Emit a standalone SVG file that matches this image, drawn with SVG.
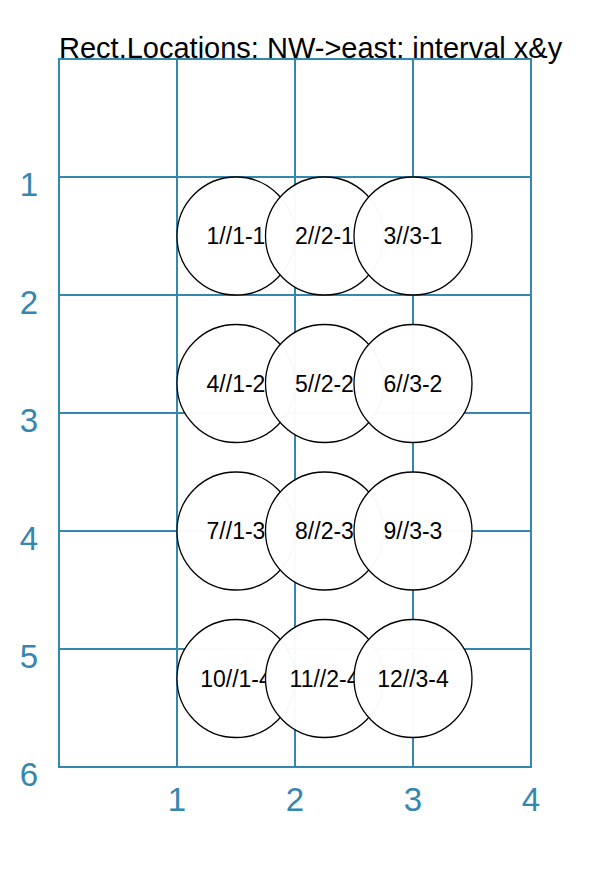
<svg xmlns="http://www.w3.org/2000/svg" width="613" height="875" viewBox="0 0 613 875">
<style>
.grid{stroke:#3587ae;stroke-width:2;fill:none;stroke-linecap:square}
.ax{font-family:"Liberation Sans",Arial,sans-serif;font-size:33px;fill:#3587ae;text-anchor:middle}
.title{font-family:"Liberation Sans",Arial,sans-serif;font-size:29px;fill:#000}
.c{fill:#fff;fill-opacity:0.97;stroke:#000;stroke-width:1.3}
.lb{font-family:"Liberation Sans",Arial,sans-serif;font-size:23px;fill:#000;text-anchor:middle}
</style>
<rect width="613" height="875" fill="#fff"/>
<g id="grid">
<path class="grid" d="M59 59V767M177 59V767M295 59V767M413 59V767M531 59V767M59 59H531M59 177H531M59 295H531M59 413H531M59 531H531M59 649H531M59 767H531"/>
</g>
<g id="axes">
<text class="ax" x="29" y="196">1</text>
<text class="ax" x="29" y="314">2</text>
<text class="ax" x="29" y="432">3</text>
<text class="ax" x="29" y="550">4</text>
<text class="ax" x="29" y="668">5</text>
<text class="ax" x="29" y="786">6</text>
<text class="ax" x="177" y="811">1</text>
<text class="ax" x="295" y="811">2</text>
<text class="ax" x="413" y="811">3</text>
<text class="ax" x="531" y="811">4</text>
</g>
<text class="title" x="59" y="58">Rect.Locations: NW-&gt;east: interval x&amp;y</text>
<g id="connectors"></g>
<g id="n1"><circle class="c" cx="236" cy="236" r="59"/><text class="lb" x="236" y="244">1//1-1</text></g>
<g id="n2"><circle class="c" cx="324.5" cy="236" r="59"/><text class="lb" x="324.5" y="244">2//2-1</text></g>
<g id="n3"><circle class="c" cx="413" cy="236" r="59"/><text class="lb" x="413" y="244">3//3-1</text></g>
<g id="n4"><circle class="c" cx="236" cy="383.5" r="59"/><text class="lb" x="236" y="391.5">4//1-2</text></g>
<g id="n5"><circle class="c" cx="324.5" cy="383.5" r="59"/><text class="lb" x="324.5" y="391.5">5//2-2</text></g>
<g id="n6"><circle class="c" cx="413" cy="383.5" r="59"/><text class="lb" x="413" y="391.5">6//3-2</text></g>
<g id="n7"><circle class="c" cx="236" cy="531" r="59"/><text class="lb" x="236" y="539">7//1-3</text></g>
<g id="n8"><circle class="c" cx="324.5" cy="531" r="59"/><text class="lb" x="324.5" y="539">8//2-3</text></g>
<g id="n9"><circle class="c" cx="413" cy="531" r="59"/><text class="lb" x="413" y="539">9//3-3</text></g>
<g id="n10"><circle class="c" cx="236" cy="678.5" r="59"/><text class="lb" x="236" y="686.5">10//1-4</text></g>
<g id="n11"><circle class="c" cx="324.5" cy="678.5" r="59"/><text class="lb" x="324.5" y="686.5">11//2-4</text></g>
<g id="n12"><circle class="c" cx="413" cy="678.5" r="59"/><text class="lb" x="413" y="686.5">12//3-4</text></g>
</svg>
